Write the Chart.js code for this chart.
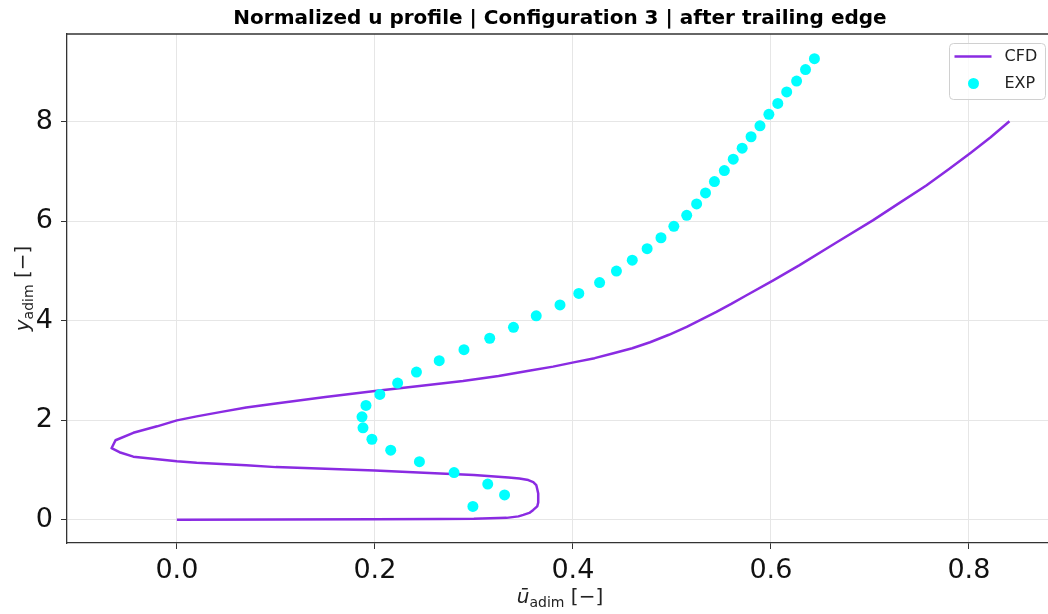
<!DOCTYPE html>
<html>
<head>
<meta charset="utf-8">
<title>Normalized u profile</title>
<script src="https://cdn.jsdelivr.net/npm/chart.js@4.4.1/dist/chart.umd.min.js"></script>
<style>
  html, body { margin: 0; padding: 0; background: #fff; overflow: hidden; }
  #wrap { width: 1048px; height: 614px; overflow: hidden; }
  canvas { display: block; }
</style>
</head>
<body>
<div id="wrap"><canvas id="myChart" width="1062" height="614"></canvas></div>
<script>
// CFD profile (ordered along the curve)
const cfdU = [0.000, 0.100, 0.200, 0.266, 0.300, 0.333, 0.345, 0.350, 0.356, 0.360,
  0.364, 0.365, 0.365, 0.364, 0.363, 0.360, 0.355, 0.346, 0.335, 0.300,
  0.266, 0.200, 0.100, 0.070, 0.020, 0.000, -0.044, -0.058, -0.066, -0.062,
  -0.044, -0.020, 0.000, 0.020, 0.045, 0.070, 0.100, 0.150, 0.200, 0.245,
  0.289, 0.325, 0.357, 0.380, 0.402, 0.422, 0.441, 0.460, 0.478, 0.497,
  0.515, 0.530, 0.545, 0.560, 0.575, 0.602, 0.629, 0.665, 0.703, 0.730,
  0.757, 0.780, 0.802, 0.822, 0.841];
const cfdY = [0.00, 0.005, 0.01, 0.015, 0.02, 0.04, 0.07, 0.10, 0.14, 0.20,
  0.27, 0.35, 0.53, 0.62, 0.70, 0.76, 0.80, 0.83, 0.85, 0.90,
  0.93, 0.99, 1.06, 1.10, 1.15, 1.18, 1.27, 1.36, 1.44, 1.60,
  1.75, 1.88, 2.00, 2.08, 2.17, 2.26, 2.34, 2.47, 2.59, 2.69,
  2.79, 2.89, 3.00, 3.08, 3.17, 3.25, 3.35, 3.45, 3.57, 3.72,
  3.88, 4.03, 4.18, 4.34, 4.51, 4.81, 5.12, 5.56, 6.02, 6.37,
  6.72, 7.05, 7.38, 7.69, 8.01];

// measured points
const expU = [0.299, 0.331, 0.314, 0.280, 0.245, 0.216, 0.197, 0.188, 0.187, 0.191,
  0.205, 0.223, 0.242, 0.265, 0.290, 0.316, 0.340, 0.363, 0.387, 0.406,
  0.427, 0.444, 0.460, 0.475, 0.489, 0.502, 0.515, 0.525, 0.534, 0.543,
  0.553, 0.562, 0.571, 0.580, 0.589, 0.598, 0.607, 0.616, 0.626, 0.635, 0.644];
const expY = [0.27, 0.50, 0.72, 0.95, 1.17, 1.40, 1.62, 1.85, 2.07, 2.30,
  2.52, 2.75, 2.97, 3.20, 3.42, 3.65, 3.87, 4.10, 4.32, 4.55,
  4.77, 5.00, 5.22, 5.45, 5.67, 5.90, 6.12, 6.35, 6.57, 6.80,
  7.02, 7.25, 7.47, 7.70, 7.92, 8.15, 8.37, 8.60, 8.82, 9.05, 9.27];

const xTicks = [0.0, 0.2, 0.4, 0.6, 0.8];
const yTicks = [0, 2, 4, 6, 8];

const titleText = 'Normalized u profile | Configuration 3 | after trailing edge';
const cfdColor = '#8a2be2';
const expColor = '#00ffff';
const FONT = '"DejaVu Sans", sans-serif';

const toPoints = (xs, ys) => xs.map((x, i) => ({ x: x, y: ys[i] }));

// math-style label: italic symbol + subscript + unit
function drawMathLabel(ctx, sym, sub, unit, size) {
  ctx.font = 'italic ' + size + 'px ' + FONT;
  const w1 = ctx.measureText(sym).width;
  ctx.font = (size * 0.7) + 'px ' + FONT;
  const w2 = ctx.measureText(sub).width;
  ctx.font = size + 'px ' + FONT;
  const w3 = ctx.measureText(unit).width;
  let x = -(w1 + w2 + w3) / 2;
  ctx.textBaseline = 'alphabetic';
  ctx.textAlign = 'left';
  ctx.font = 'italic ' + size + 'px ' + FONT;
  ctx.fillText(sym, x, 0);
  x += w1;
  ctx.font = (size * 0.7) + 'px ' + FONT;
  ctx.fillText(sub, x, size * 0.22);
  x += w2;
  ctx.font = size + 'px ' + FONT;
  ctx.fillText(unit, x, 0);
}

const decorPlugin = {
  id: 'decor',
  afterDraw(chart) {
    const ctx = chart.ctx;
    const a = chart.chartArea;
    ctx.save();

    // top spine
    ctx.strokeStyle = '#333';
    ctx.lineWidth = 1.3;
    ctx.beginPath();
    ctx.moveTo(a.left, a.top);
    ctx.lineTo(a.right + 1, a.top);
    ctx.stroke();

    // title
    ctx.fillStyle = '#000';
    ctx.font = 'bold 20px ' + FONT;
    ctx.textAlign = 'center';
    ctx.textBaseline = 'alphabetic';
    ctx.fillText(titleText, (a.left + a.right) / 2, 24);

    // axis labels
    ctx.fillStyle = '#222';
    ctx.save();
    ctx.translate((a.left + a.right) / 2, 603);
    drawMathLabel(ctx, 'ū', 'adim', ' [−]', 20);
    ctx.restore();
    ctx.save();
    ctx.translate(29, (a.top + a.bottom) / 2);
    ctx.rotate(-Math.PI / 2);
    drawMathLabel(ctx, 'y', 'adim', ' [−]', 20);
    ctx.restore();

    // legend
    const bw = 96, bh = 56;
    const bx = a.right - 7.5 - bw, by = a.top + 9.5;
    ctx.beginPath();
    ctx.roundRect(bx, by, bw, bh, 4);
    ctx.fillStyle = 'rgba(255,255,255,0.8)';
    ctx.fill();
    ctx.strokeStyle = '#d0d0d0';
    ctx.lineWidth = 1;
    ctx.stroke();

    const ds = chart.data.datasets;
    ctx.font = '16px ' + FONT;
    ctx.textAlign = 'left';
    ctx.textBaseline = 'middle';
    // CFD line sample
    ctx.strokeStyle = ds[0].borderColor;
    ctx.lineWidth = 2.5;
    ctx.beginPath();
    ctx.moveTo(bx + 5, by + 13);
    ctx.lineTo(bx + 42, by + 13);
    ctx.stroke();
    ctx.fillStyle = '#222';
    ctx.fillText(ds[0].label, bx + 55, by + 13);
    // EXP dot sample
    ctx.fillStyle = ds[1].pointBackgroundColor;
    ctx.beginPath();
    ctx.arc(bx + 24, by + 40, 5.5, 0, Math.PI * 2);
    ctx.fill();
    ctx.fillStyle = '#222';
    ctx.fillText(ds[1].label, bx + 55, by + 40);

    ctx.restore();
  }
};

var ctx = document.getElementById('myChart').getContext('2d');
var myChart = new Chart(ctx, {
  type: 'scatter',
  data: {
    datasets: [{
      label: 'CFD',
      data: toPoints(cfdU, cfdY),
      showLine: true,
      borderColor: cfdColor,
      borderWidth: 2.5,
      borderJoinStyle: 'round',
      pointRadius: 0,
      tension: 0,
      fill: false,
      order: 2
    }, {
      label: 'EXP',
      data: toPoints(expU, expY),
      showLine: false,
      pointRadius: 5.5,
      pointBackgroundColor: expColor,
      pointBorderWidth: 0,
      order: 1
    }]
  },
  options: {
    responsive: false,
    animation: false,
    events: [],
    devicePixelRatio: 1,
    layout: { padding: { left: 0, right: 9, top: 34, bottom: 0 } },
    plugins: {
      legend: { display: false },
      tooltip: { enabled: false },
      title: { display: false }
    },
    scales: {
      x: {
        type: 'linear',
        min: -0.111,
        max: 0.885,
        afterBuildTicks: s => { s.ticks = xTicks.map(v => ({ value: v })); },
        afterFit: s => { s.height = 71; },
        ticks: {
          color: '#111',
          font: { family: FONT, size: 27 },
          padding: 6,
          maxRotation: 0,
          callback: v => v.toFixed(1)
        },
        grid: { color: '#e6e6e6', lineWidth: 1, tickColor: '#333', tickLength: 6 },
        border: { display: true, color: '#333', width: 1.3 }
      },
      y: {
        type: 'linear',
        min: -0.465,
        max: 9.765,
        afterBuildTicks: s => { s.ticks = yTicks.map(v => ({ value: v })); },
        afterFit: s => { s.width = 67; },
        ticks: {
          color: '#111',
          font: { family: FONT, size: 27 },
          padding: 8,
          callback: v => String(v)
        },
        grid: { color: '#e6e6e6', lineWidth: 1, tickColor: '#333', tickLength: 6 },
        border: { display: true, color: '#333', width: 1.3 }
      }
    }
  },
  plugins: [decorPlugin]
});
</script>
</body>
</html>
